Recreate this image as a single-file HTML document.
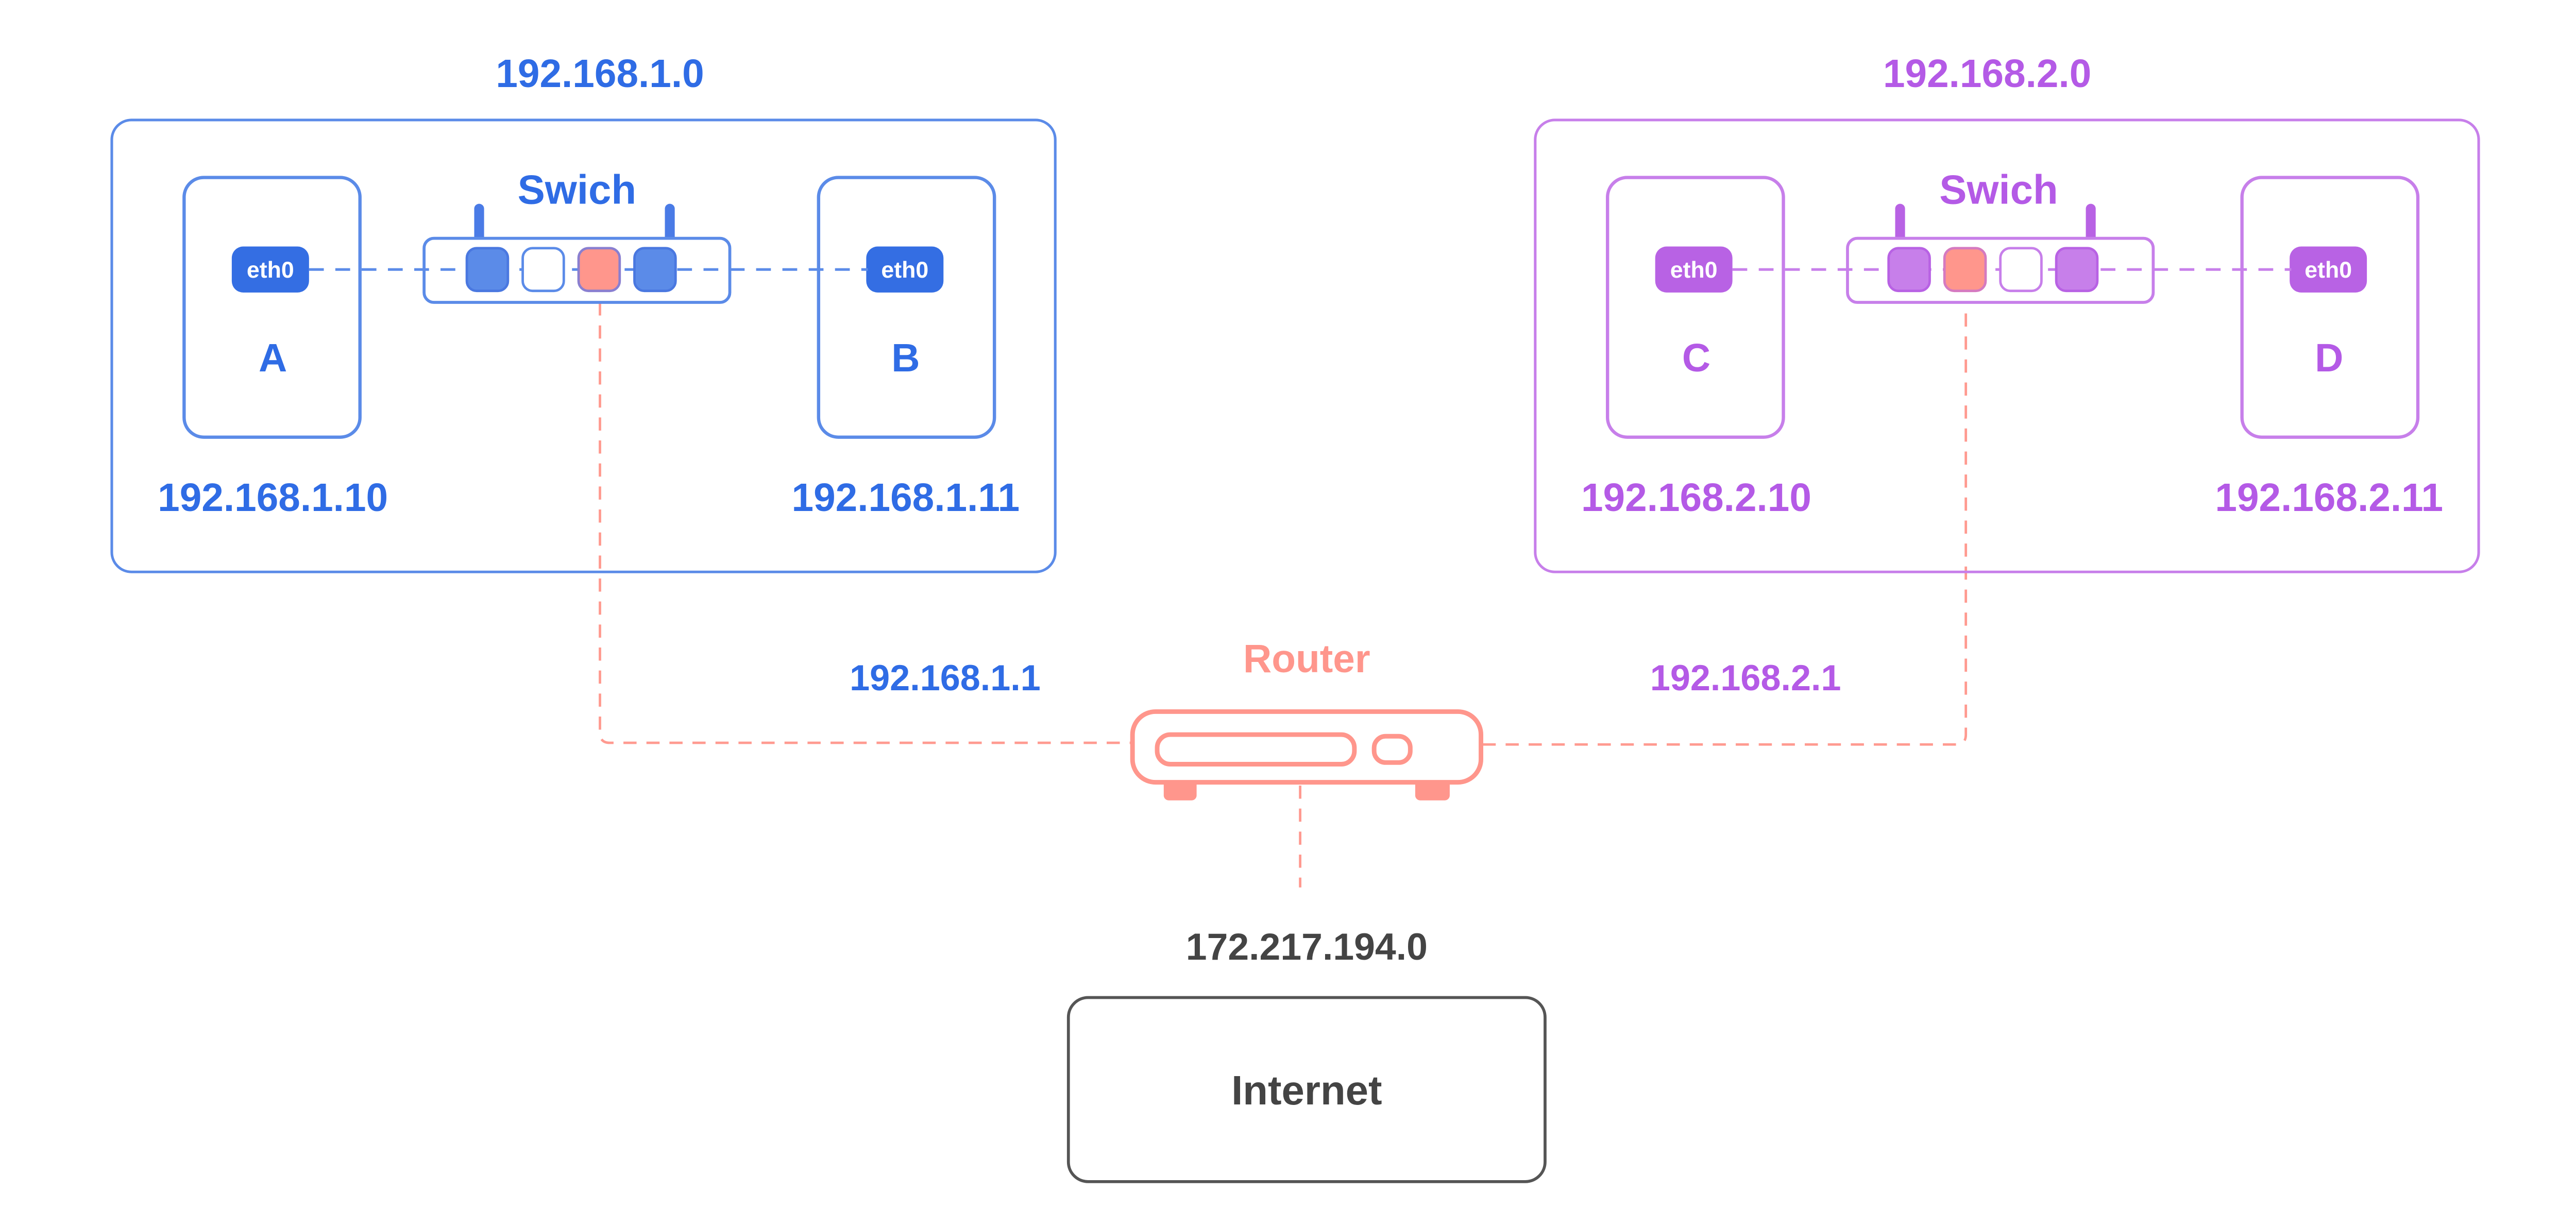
<!DOCTYPE html>
<html><head><meta charset="utf-8"><style>
html,body{margin:0;padding:0;background:#fff;}
svg{display:block;}
text{font-family:"Liberation Sans",sans-serif;font-weight:bold;text-anchor:middle;}
</style></head><body>
<svg width="5178" height="2380" viewBox="0 0 1623 746" xmlns="http://www.w3.org/2000/svg">
<rect width="1623" height="746" fill="#fff"/>
<!-- router links -->
<g fill="none" stroke="#ff9a90" stroke-width="1.5" stroke-dasharray="8,6">
<path d="M365 184 V446 Q365 452 371 452 H688"/>
<path d="M902 453 H1190 Q1196 453 1196 447 V184"/>
<path d="M791 478 V540"/>
</g>
<!-- LEFT NETWORK -->
<text x="365" y="53" font-size="24" fill="#2f6ce5">192.168.1.0</text>
<rect x="68" y="73" width="574" height="275" rx="12" fill="none" stroke="#5b8be8" stroke-width="1.6"/>
<rect x="112" y="108" width="107" height="158" rx="12" fill="none" stroke="#5b8be8" stroke-width="2"/>
<rect x="498" y="108" width="107" height="158" rx="12" fill="none" stroke="#5b8be8" stroke-width="2"/>
<rect x="141" y="150" width="47" height="28" rx="7" fill="#346ee3"/>
<text x="164.5" y="169" font-size="14" fill="#fff" font-weight="normal">eth0</text>
<rect x="527" y="150" width="47" height="28" rx="7" fill="#346ee3"/>
<text x="550.5" y="169" font-size="14" fill="#fff" font-weight="normal">eth0</text>
<text x="166" y="226" font-size="24" fill="#2f6ce5">A</text>
<text x="551" y="226" font-size="24" fill="#2f6ce5">B</text>
<text x="166" y="311" font-size="24" fill="#2f6ce5">192.168.1.10</text>
<text x="551" y="311" font-size="24" fill="#2f6ce5">192.168.1.11</text>
<text x="351" y="124" font-size="25" fill="#2f6ce5">Swich</text>
<rect x="288.5" y="124" width="6" height="24" rx="3" fill="#4a7be6"/>
<rect x="404.5" y="124" width="6" height="24" rx="3" fill="#4a7be6"/>
<rect x="258" y="145" width="186" height="39" rx="6" fill="#fff" stroke="#5b8be8" stroke-width="1.8"/>
<line x1="188" y1="164" x2="528" y2="164" stroke="#5b8be8" stroke-width="1.6" stroke-dasharray="9,7"/>
<rect x="284" y="151" width="25" height="26" rx="6" fill="#5b8be8" stroke="#4a78e0" stroke-width="1.5"/>
<rect x="318" y="151" width="25" height="26" rx="6" fill="#fff" stroke="#5b8be8" stroke-width="1.5"/>
<rect x="352" y="151" width="25" height="26" rx="6" fill="#ff968c" stroke="#8a7fd0" stroke-width="1.5"/>
<rect x="386" y="151" width="25" height="26" rx="6" fill="#5b8be8" stroke="#4a78e0" stroke-width="1.5"/>
<!-- RIGHT NETWORK -->
<text x="1209" y="53" font-size="24" fill="#b45ae6">192.168.2.0</text>
<rect x="934" y="73" width="574" height="275" rx="12" fill="none" stroke="#c77fea" stroke-width="1.6"/>
<rect x="978" y="108" width="107" height="158" rx="12" fill="none" stroke="#c77fea" stroke-width="2"/>
<rect x="1364" y="108" width="107" height="158" rx="12" fill="none" stroke="#c77fea" stroke-width="2"/>
<rect x="1007" y="150" width="47" height="28" rx="7" fill="#b862e4"/>
<text x="1030.5" y="169" font-size="14" fill="#fff" font-weight="normal">eth0</text>
<rect x="1393" y="150" width="47" height="28" rx="7" fill="#b862e4"/>
<text x="1416.5" y="169" font-size="14" fill="#fff" font-weight="normal">eth0</text>
<text x="1032" y="226" font-size="24" fill="#b45ae6">C</text>
<text x="1417" y="226" font-size="24" fill="#b45ae6">D</text>
<text x="1032" y="311" font-size="24" fill="#b45ae6">192.168.2.10</text>
<text x="1417" y="311" font-size="24" fill="#b45ae6">192.168.2.11</text>
<text x="1216" y="124" font-size="25" fill="#b45ae6">Swich</text>
<rect x="1153" y="124" width="6" height="24" rx="3" fill="#b862e4"/>
<rect x="1269" y="124" width="6" height="24" rx="3" fill="#b862e4"/>
<rect x="1124" y="145" width="186" height="39" rx="6" fill="#fff" stroke="#c77fea" stroke-width="1.8"/>
<line x1="1054" y1="164" x2="1394" y2="164" stroke="#c77fea" stroke-width="1.6" stroke-dasharray="9,7"/>
<rect x="1149" y="151" width="25" height="26" rx="6" fill="#c77fea" stroke="#b862e4" stroke-width="1.5"/>
<rect x="1183" y="151" width="25" height="26" rx="6" fill="#ff968c" stroke="#d57ac0" stroke-width="1.5"/>
<rect x="1217" y="151" width="25" height="26" rx="6" fill="#fff" stroke="#c77fea" stroke-width="1.5"/>
<rect x="1251" y="151" width="25" height="26" rx="6" fill="#c77fea" stroke="#b862e4" stroke-width="1.5"/>
<!-- ROUTER -->
<text x="795" y="409" font-size="24" fill="#ff968c">Router</text>
<text x="575" y="420" font-size="22" fill="#2f6ce5">192.168.1.1</text>
<text x="1062" y="420" font-size="22" fill="#b45ae6">192.168.2.1</text>
<rect x="708" y="474" width="20" height="13" rx="3" fill="#ff968c"/>
<rect x="861" y="474" width="21" height="13" rx="3" fill="#ff968c"/>
<rect x="689" y="433" width="212" height="43" rx="14" fill="#fff" stroke="#ff968c" stroke-width="2.8"/>
<rect x="704" y="447" width="120" height="18" rx="8" fill="none" stroke="#ff968c" stroke-width="2.8"/>
<rect x="836" y="448" width="22" height="16" rx="7" fill="none" stroke="#ff968c" stroke-width="2.8"/>
<!-- INTERNET -->
<text x="795" y="584" font-size="23" fill="#444">172.217.194.0</text>
<rect x="650" y="607" width="290" height="112" rx="12" fill="none" stroke="#555" stroke-width="1.8"/>
<text x="795" y="672" font-size="25" fill="#444">Internet</text>
</svg>
</body></html>
